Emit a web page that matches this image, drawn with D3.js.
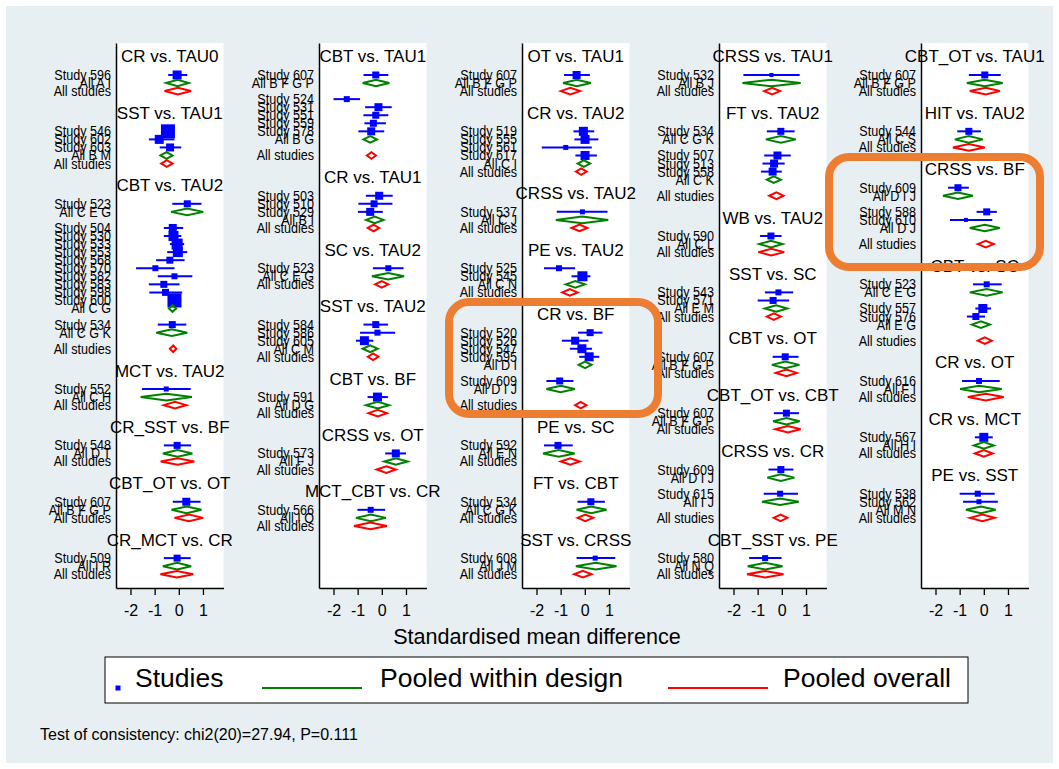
<!DOCTYPE html>
<html>
<head>
<meta charset="utf-8">
<script src="https://cdn.jsdelivr.net/npm/d3@7"></script>
<style>
  html, body { margin: 0; padding: 0; background: #ffffff; }
  svg { display: block; }
  text { font-family: "Liberation Sans", Arial, Helvetica, sans-serif; }
</style>
</head>
<body>
<svg id="chart" width="1059" height="769"></svg>
<script>
// Network forest plot: standardised mean differences by comparison.
// Study rows: [label, estimate, lower, upper, weight]
// Design rows: pooled within design, overall: pooled across all studies.

const column1 = [
  { title: "CR vs. TAU0",
    designs: [{ label: "All A I", est: -0.05, lo: -0.52, hi: 0.41,
      studies: [["Study 596", -0.07, -0.44, 0.35, 81]] }],
    overall: [-0.04, -0.59, 0.51] },
  { title: "SST vs. TAU1",
    designs: [{ label: "All B M", est: -0.51, lo: -0.76, hi: -0.26,
      studies: [["Study 546", -0.45, -0.72, -0.2, 196], ["Study 602", -0.81, -1.24, -0.18, 81], ["Study 603", -0.36, -0.79, 0.1, 64]] }],
    overall: [-0.5, -0.73, -0.26] },
  { title: "CBT vs. TAU2",
    designs: [
      { label: "All C E G", est: 0.35, lo: -0.32, hi: 1.01,
        studies: [["Study 523", 0.35, -0.27, 0.94, 49]] },
      { label: "All C G", est: -0.26, lo: -0.41, hi: -0.11,
        studies: [["Study 504", -0.25, -0.62, 0.18, 64], ["Study 530", -0.22, -0.62, 0.1, 100], ["Study 533", -0.07, -0.37, 0.22, 121],
                  ["Study 553", -0.04, -0.48, 0.35, 100], ["Study 568", -0.37, -0.94, 0.24, 49], ["Study 570", -0.97, -1.77, -0.18, 36],
                  ["Study 582", -0.18, -0.87, 0.56, 36], ["Study 583", -0.62, -1.24, 0.03, 49], ["Study 598", -0.55, -1.22, 0.14, 49],
                  ["Study 600", -0.18, -0.45, 0.1, 196]] },
      { label: "All C G K", est: -0.29, lo: -0.93, hi: 0.35,
        studies: [["Study 534", -0.27, -0.87, 0.31, 49]] }],
    overall: [-0.23, -0.37, -0.1] },
  { title: "MCT vs. TAU2",
    designs: [{ label: "All C H", est: -0.52, lo: -1.58, hi: 0.54,
      studies: [["Study 552", -0.52, -1.52, 0.49, 25]] }],
    overall: [-0.16, -0.62, 0.31] },
  { title: "CR_SST vs. BF",
    designs: [{ label: "All D T", est: -0.05, lo: -0.66, hi: 0.56,
      studies: [["Study 548", -0.07, -0.62, 0.51, 49]] }],
    overall: [-0.05, -0.75, 0.64] },
  { title: "CBT_OT vs. OT",
    designs: [{ label: "All B F G P", est: 0.32, lo: -0.3, hi: 0.94,
      studies: [["Study 607", 0.31, -0.25, 0.9, 64]] }],
    overall: [0.42, -0.18, 1.01] },
  { title: "CR_MCT vs. CR",
    designs: [{ label: "All I R", est: -0.07, lo: -0.66, hi: 0.51,
      studies: [["Study 509", -0.07, -0.62, 0.49, 49]] }],
    overall: [-0.08, -0.76, 0.6] }
];

const column2 = [
  { title: "CBT vs. TAU1",
    designs: [
      { label: "All B F G P", est: -0.24, lo: -0.79, hi: 0.31,
        studies: [["Study 607", -0.25, -0.76, 0.27, 49]] },
      { label: "All B G", est: -0.48, lo: -0.76, hi: -0.2,
        studies: [["Study 524", -1.45, -2.0, -0.9, 36], ["Study 531", -0.14, -0.69, 0.41, 64], ["Study 551", -0.25, -0.76, 0.27, 49],
                  ["Study 559", -0.35, -0.72, 0.17, 49], ["Study 578", -0.44, -0.97, 0.1, 64]] }],
    overall: [-0.43, -0.62, -0.24] },
  { title: "CR vs. TAU1",
    designs: [{ label: "All B I", est: -0.29, lo: -0.65, hi: 0.07,
      studies: [["Study 503", -0.11, -0.66, 0.45, 64], ["Study 510", -0.32, -0.97, 0.44, 49], ["Study 529", -0.48, -0.99, 0.04, 64]] }],
    overall: [-0.34, -0.58, -0.11] },
  { title: "SC vs. TAU2",
    designs: [{ label: "All C E G", est: 0.27, lo: -0.41, hi: 0.92,
      studies: [["Study 523", 0.27, -0.37, 0.9, 36]] }],
    overall: [0.0, -0.28, 0.27] },
  { title: "SST vs. TAU2",
    designs: [{ label: "All C M", est: -0.48, lo: -0.79, hi: -0.17,
      studies: [["Study 584", -0.25, -0.76, 0.26, 49], ["Study 586", -0.18, -0.9, 0.55, 36], ["Study 605", -0.72, -1.07, -0.35, 81]] }],
    overall: [-0.36, -0.58, -0.14] },
  { title: "CBT vs. BF",
    designs: [{ label: "All D G", est: -0.17, lo: -0.65, hi: 0.3,
      studies: [["Study 591", -0.18, -0.59, 0.25, 81]] }],
    overall: [-0.17, -0.55, 0.21] },
  { title: "CRSS vs. OT",
    designs: [{ label: "All F J", est: 0.58, lo: 0.1, hi: 1.07,
      studies: [["Study 573", 0.58, 0.14, 1.0, 64]] }],
    overall: [0.19, -0.21, 0.58] },
  { title: "MCT_CBT vs. CR",
    designs: [{ label: "All I O", est: -0.45, lo: -1.07, hi: 0.17,
      studies: [["Study 566", -0.46, -1.01, 0.14, 36]] }],
    overall: [-0.47, -1.15, 0.21] }
];

const column3 = [
  { title: "OT vs. TAU1",
    designs: [{ label: "All B F G P", est: -0.33, lo: -0.9, hi: 0.25,
      studies: [["Study 607", -0.34, -0.86, 0.21, 64]] }],
    overall: [-0.6, -1.0, -0.2] },
  { title: "CR vs. TAU2",
    designs: [{ label: "All C I", est: -0.04, lo: -0.3, hi: 0.22,
      studies: [["Study 519", -0.06, -0.47, 0.39, 81], ["Study 555", 0.01, -0.43, 0.56, 81], ["Study 561", -0.79, -1.78, 0.29, 25],
                ["Study 617", 0.01, -0.39, 0.5, 81]] }],
    overall: [-0.15, -0.37, 0.08] },
  { title: "CRSS vs. TAU2",
    designs: [{ label: "All C J", est: -0.11, lo: -1.2, hi: 0.97,
      studies: [["Study 537", -0.1, -1.16, 0.94, 25]] }],
    overall: [-0.22, -0.55, 0.11] },
  { title: "PE vs. TAU2",
    designs: [{ label: "All C N", est: -0.39, lo: -0.79, hi: 0.0,
      studies: [["Study 525", -1.07, -1.69, -0.4, 36], ["Study 545", -0.1, -0.55, 0.23, 100]] }],
    overall: [-0.62, -0.93, -0.3] },
  { title: "CR vs. BF",
    designs: [
      { label: "All D I", est: 0.01, lo: -0.26, hi: 0.28,
        studies: [["Study 520", 0.22, -0.28, 0.73, 49], ["Study 526", -0.4, -0.95, 0.15, 64], ["Study 547", -0.12, -0.62, 0.3, 81],
                  ["Study 595", 0.18, -0.23, 0.6, 81]] },
      { label: "All D I J", est: -1.0, lo: -1.59, hi: -0.41,
        studies: [["Study 609", -1.04, -1.59, -0.47, 49]] }],
    overall: [-0.17, -0.4, 0.07] },
  { title: "PE vs. SC",
    designs: [{ label: "All E N", est: -1.08, lo: -1.73, hi: -0.42,
      studies: [["Study 592", -1.11, -1.69, -0.5, 49]] }],
    overall: [-0.6, -1.0, -0.21] },
  { title: "FT vs. CBT",
    designs: [{ label: "All C G K", est: 0.26, lo: -0.34, hi: 0.9,
      studies: [["Study 534", 0.25, -0.3, 0.83, 49]] }],
    overall: [0.02, -0.3, 0.35] },
  { title: "SST vs. CRSS",
    designs: [{ label: "All J M", est: 0.45, lo: -0.37, hi: 1.31,
      studies: [["Study 608", 0.43, -0.34, 1.26, 25]] }],
    overall: [-0.08, -0.44, 0.28] }
];

const column4 = [
  { title: "CRSS vs. TAU1",
    designs: [{ label: "All B J", est: -0.42, lo: -1.63, hi: 0.78,
      studies: [["Study 532", -0.43, -1.59, 0.74, 16]] }],
    overall: [-0.4, -0.73, -0.07] },
  { title: "FT vs. TAU2",
    designs: [
      { label: "All C G K", est: -0.04, lo: -0.66, hi: 0.58,
        studies: [["Study 534", -0.04, -0.62, 0.53, 49]] },
      { label: "All C K", est: -0.33, lo: -0.62, hi: -0.04,
        studies: [["Study 507", -0.18, -0.73, 0.37, 64], ["Study 513", -0.32, -0.8, 0.12, 64], ["Study 558", -0.38, -0.86, 0.0, 64]] }],
    overall: [-0.22, -0.52, 0.07] },
  { title: "WB vs. TAU2",
    designs: [{ label: "All C L", est: -0.45, lo: -0.93, hi: 0.03,
      studies: [["Study 590", -0.45, -0.9, -0.01, 49]] }],
    overall: [-0.44, -0.97, 0.1] },
  { title: "SST vs. SC",
    designs: [{ label: "All E M", est: -0.23, lo: -0.7, hi: 0.23,
      studies: [["Study 543", -0.14, -0.7, 0.47, 36], ["Study 571", -0.36, -1.0, 0.3, 49]] }],
    overall: [-0.33, -0.62, -0.04] },
  { title: "CBT vs. OT",
    designs: [{ label: "All B F G P", est: 0.14, lo: -0.41, hi: 0.73,
      studies: [["Study 607", 0.14, -0.38, 0.69, 49]] }],
    overall: [0.19, -0.25, 0.62] },
  { title: "CBT_OT vs. CBT",
    designs: [{ label: "All B F G P", est: 0.19, lo: -0.36, hi: 0.74,
      studies: [["Study 607", 0.19, -0.33, 0.71, 49]] }],
    overall: [0.25, -0.27, 0.78] },
  { title: "CRSS vs. CR",
    designs: [
      { label: "All D I J", est: -0.04, lo: -0.6, hi: 0.52,
        studies: [["Study 609", -0.04, -0.55, 0.48, 49]] },
      { label: "All I J", est: -0.07, lo: -0.82, hi: 0.7,
        studies: [["Study 615", -0.07, -0.75, 0.67, 36]] }],
    overall: [-0.05, -0.34, 0.23] },
  { title: "CBT_SST vs. PE",
    designs: [{ label: "All N Q", est: -0.69, lo: -1.41, hi: 0.03,
      studies: [["Study 580", -0.69, -1.35, -0.01, 36]] }],
    overall: [-0.69, -1.44, 0.07] }
];

const column5 = [
  { title: "CBT_OT vs. TAU1",
    designs: [{ label: "All B F G P", est: 0.04, lo: -0.7, hi: 0.78,
      studies: [["Study 607", 0.04, -0.62, 0.7, 49]] }],
    overall: [0.08, -0.58, 0.66] },
  { title: "HIT vs. TAU2",
    designs: [{ label: "All C S", est: -0.62, lo: -1.2, hi: -0.04,
      studies: [["Study 544", -0.62, -1.1, -0.12, 49]] }],
    overall: [-0.62, -1.28, 0.04] },
  { title: "CRSS vs. BF",
    designs: [
      { label: "All D I J", est: -1.07, lo: -1.69, hi: -0.45,
        studies: [["Study 609", -1.07, -1.48, -0.62, 49]] },
      { label: "All D J", est: 0.04, lo: -0.58, hi: 0.66,
        studies: [["Study 588", 0.12, -0.3, 0.54, 49], ["Study 610", -0.74, -1.4, 0.35, 16]] }],
    overall: [0.08, -0.25, 0.41] },
  { title: "CBT vs. SC",
    designs: [
      { label: "All C E G", est: 0.12, lo: -0.58, hi: 0.78,
        studies: [["Study 523", 0.12, -0.45, 0.74, 36]] },
      { label: "All E G", est: -0.12, lo: -0.5, hi: 0.25,
        studies: [["Study 557", -0.04, -0.35, 0.3, 81], ["Study 576", -0.33, -0.7, 0.05, 49]] }],
    overall: [0.04, -0.25, 0.33] },
  { title: "CR vs. OT",
    designs: [{ label: "All F I", est: -0.2, lo: -0.98, hi: 0.74,
      studies: [["Study 616", -0.2, -0.9, 0.66, 36]] }],
    overall: [0.08, -0.66, 0.82] },
  { title: "CR vs. MCT",
    designs: [{ label: "All H I", est: 0.0, lo: -0.41, hi: 0.41,
      studies: [["Study 567", 0.0, -0.37, 0.37, 81]] }],
    overall: [0.0, -0.37, 0.37] },
  { title: "PE vs. SST",
    designs: [{ label: "All M N", est: -0.12, lo: -0.74, hi: 0.49,
      studies: [["Study 538", -0.25, -1.0, 0.45, 36], ["Study 562", -0.2, -0.86, 0.58, 25]] }],
    overall: [-0.06, -0.58, 0.45] }
];

const columns = [column1, column2, column3, column4, column5];
const xTicks = [-2, -1, 0, 1];
const xTitle = "Standardised mean difference";
const legendItems = ["Studies", "Pooled within design", "Pooled overall"];
const footnote = "Test of consistency: chi2(20)=27.94, P=0.111";

// ---- layout ----
const W = 1059, H = 769;
const panelLeft = [116, 319, 522, 719, 921];
const panelW = 107.5;
const plotTop = 43, plotBottom = 588;
const colors = { study: "#0000ff", design: "#008000", overall: "#ff0000" };

const svg = d3.select("#chart");

svg.append("rect").attr("x", 0).attr("y", 0).attr("width", W).attr("height", H).attr("fill", "#ffffff");
svg.append("rect").attr("x", 6).attr("y", 6).attr("width", W - 12).attr("height", H - 12).attr("fill", "#e8eff3");

const y = d3.scaleLinear().domain([-3.97, 63.71]).range([plotTop, plotBottom]);
const sideScale = d3.scaleSqrt().domain([0, 196]).range([0, 14]);

// assign rows: studies, pooled design row, blank between designs, overall row
function layoutColumn(col) {
  const rows = { titles: [], studies: [], designs: [], overall: [] };
  let r = -5;
  col.forEach(cmp => {
    r += 5;
    rows.titles.push({ text: cmp.title, row: r });
    cmp.designs.forEach((d, j) => {
      if (j > 0) r += 2;
      d.studies.forEach((s, k) => {
        if (k > 0) r += 1;
        rows.studies.push({ label: s[0], est: s[1], lo: s[2], hi: s[3], w: s[4], row: r });
      });
      r += 1;
      rows.designs.push({ label: d.label, est: d.est, lo: d.lo, hi: d.hi, row: r });
    });
    r += cmp.designs.length > 1 ? 2 : 1;
    rows.overall.push({ label: "All studies", est: cmp.overall[0], lo: cmp.overall[1], hi: cmp.overall[2], row: r });
  });
  return rows;
}

function diamond(x, d, yy, h) {
  const cx = x(d.est), cy = yy;
  return `M${x(d.lo)},${cy} L${cx},${cy - h} L${x(d.hi)},${cy} L${cx},${cy + h} Z`;
}

columns.forEach((col, i) => {
  const x0 = panelLeft[i];
  const x = d3.scaleLinear().domain([-2.6, 1.85]).range([x0, x0 + panelW]);
  const rows = layoutColumn(col);
  const g = svg.append("g");

  g.append("rect").attr("x", x0).attr("y", plotTop)
    .attr("width", panelW).attr("height", plotBottom - plotTop).attr("fill", "#ffffff");

  // comparison titles
  g.selectAll("text.title").data(rows.titles).join("text")
    .attr("class", "title")
    .attr("x", x0 + panelW / 2).attr("y", d => y(d.row) - 12.5)
    .attr("text-anchor", "middle").attr("font-size", 17).attr("fill", "#000")
    .text(d => d.text);

  // row labels (slightly condensed, tall lettering)
  const labels = rows.studies.concat(rows.designs, rows.overall);
  g.selectAll("text.lab").data(labels).join("text")
    .attr("class", "lab")
    .attr("transform", d => `translate(${x0 - 5},${y(d.row) + 5}) scale(0.9,1)`)
    .attr("text-anchor", "end").attr("font-size", 14).attr("fill", "#000")
    .text(d => d.label);

  // study confidence intervals
  g.selectAll("line.ci").data(rows.studies).join("line")
    .attr("class", "ci")
    .attr("x1", d => x(d.lo)).attr("x2", d => x(d.hi))
    .attr("y1", d => y(d.row)).attr("y2", d => y(d.row))
    .attr("stroke", colors.study).attr("stroke-width", 2);

  // study squares sized by weight
  g.selectAll("rect.sq").data(rows.studies).join("rect")
    .attr("class", "sq")
    .attr("x", d => x(d.est) - sideScale(d.w) / 2)
    .attr("y", d => y(d.row) - sideScale(d.w) / 2)
    .attr("width", d => sideScale(d.w)).attr("height", d => sideScale(d.w))
    .attr("fill", colors.study);

  // pooled within design
  g.selectAll("path.des").data(rows.designs).join("path")
    .attr("class", "des")
    .attr("d", d => diamond(x, d, y(d.row), 3.3))
    .attr("fill", "none").attr("stroke", colors.design).attr("stroke-width", 2);

  // pooled overall
  g.selectAll("path.ovr").data(rows.overall).join("path")
    .attr("class", "ovr")
    .attr("d", d => diamond(x, d, y(d.row), 3.3))
    .attr("fill", "none").attr("stroke", colors.overall).attr("stroke-width", 2);

  // axes
  const yAxis = g.append("g").attr("transform", `translate(${x0},0)`)
    .call(d3.axisLeft(y).tickValues([]).tickSizeOuter(0));
  yAxis.select(".domain").attr("stroke", "#000").attr("stroke-width", 1.5);

  const xAxis = g.append("g").attr("transform", `translate(0,${plotBottom})`)
    .call(d3.axisBottom(x).tickValues(xTicks).tickSize(7).tickSizeOuter(0).tickFormat(d3.format("d")));
  xAxis.select(".domain").attr("stroke", "#000").attr("stroke-width", 1.5);
  xAxis.selectAll(".tick line").attr("stroke", "#000").attr("stroke-width", 1.3);
  xAxis.selectAll(".tick text").attr("font-size", 16).attr("fill", "#000")
    .attr("dy", 0).attr("y", 28)
    .attr("font-family", "Liberation Sans, Arial, sans-serif")
    .text(d => d < 0 ? "-" + Math.abs(d) : d);
});

// x axis title
svg.append("text").attr("x", 537).attr("y", 644).attr("text-anchor", "middle")
  .attr("font-size", 21.6).attr("fill", "#000").text(xTitle);

// legend
const lg = svg.append("g");
lg.append("rect").attr("x", 105).attr("y", 657).attr("width", 863).attr("height", 46)
  .attr("fill", "#ffffff").attr("stroke", "#000").attr("stroke-width", 1);
lg.append("rect").attr("x", 115.5).attr("y", 685.5).attr("width", 5).attr("height", 5).attr("fill", colors.study);
lg.append("text").attr("x", 135).attr("y", 687).attr("font-size", 26.5).attr("fill", "#000").text(legendItems[0]);
lg.append("line").attr("x1", 262).attr("x2", 362).attr("y1", 688).attr("y2", 688)
  .attr("stroke", colors.design).attr("stroke-width", 2);
lg.append("text").attr("x", 380).attr("y", 687).attr("font-size", 26.5).attr("fill", "#000").text(legendItems[1]);
lg.append("line").attr("x1", 668).attr("x2", 768).attr("y1", 688).attr("y2", 688)
  .attr("stroke", colors.overall).attr("stroke-width", 2);
lg.append("text").attr("x", 783).attr("y", 687).attr("font-size", 26.5).attr("fill", "#000").text(legendItems[2]);

// footnote
svg.append("text").attr("x", 40).attr("y", 740).attr("font-size", 16).attr("fill", "#000").text(footnote);

// highlight frames
const frames = [
  { x1: 449, y1: 302, x2: 658, y2: 414 },
  { x1: 829, y1: 157, x2: 1040, y2: 267 }
];
svg.selectAll("rect.frame").data(frames).join("rect")
  .attr("class", "frame")
  .attr("x", d => d.x1).attr("y", d => d.y1)
  .attr("width", d => d.x2 - d.x1).attr("height", d => d.y2 - d.y1)
  .attr("rx", 20).attr("ry", 20)
  .attr("fill", "none").attr("stroke", "#ed7d31").attr("stroke-width", 8);
</script>
</body>
</html>
